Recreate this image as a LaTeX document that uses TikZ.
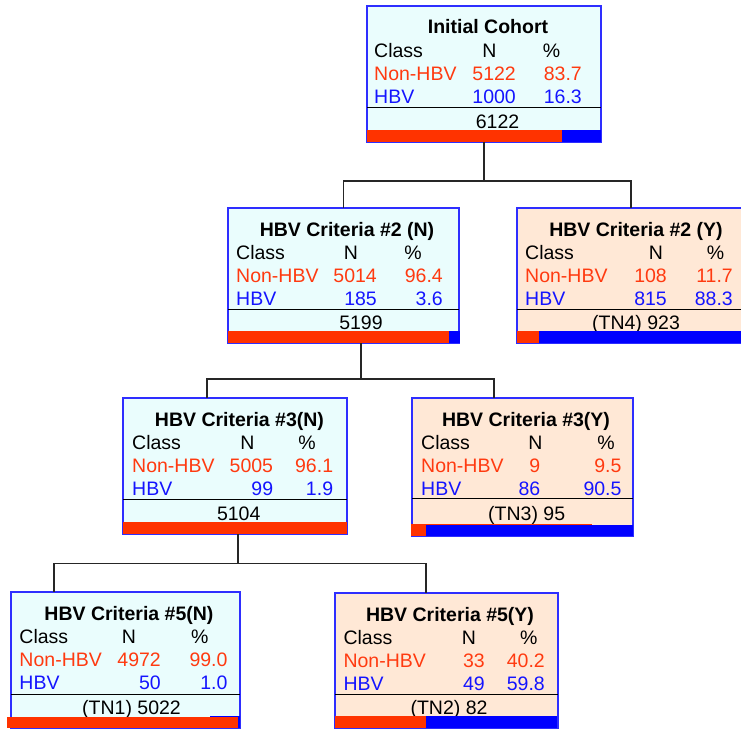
\documentclass[tikz,border=0pt]{standalone}
\usepackage{fontspec}
\setmainfont{Liberation Sans}
\usetikzlibrary{calc}
\definecolor{bordblue}{HTML}{2E2EFF}
\definecolor{cyanfill}{HTML}{EAFDFD}
\definecolor{peachfill}{HTML}{FFE8D6}
\definecolor{barred}{HTML}{FF3300}
\definecolor{barblue}{HTML}{0000FF}
\definecolor{txtred}{HTML}{FF3A10}
\definecolor{txtblue}{HTML}{1414FF}
\tikzset{
  tbox/.style={draw=bordblue, line width=1.2pt, inner sep=0pt, outer sep=0pt, anchor=north west},
  lbox/.style={tbox, fill=cyanfill},
  rbox/.style={tbox, fill=peachfill},
  ttl/.style={anchor=base, inner sep=0pt, font=\fontsize{19.5}{22}\selectfont\bfseries},
  txt/.style={inner sep=0pt, font=\fontsize{19.5}{22}\selectfont},
  lft/.style={txt, anchor=base west},
  rgt/.style={txt, anchor=base east},
  ctr/.style={txt, anchor=base},
  nred/.style={text=txtred},
  nblue/.style={text=txtblue},
  sepline/.style={line width=1pt, black},
  conn/.style={line width=1.3pt, draw=black!85},
}
\newcommand\thead[5]{%
  \node[lft] (#1-c) at (#3,#2+51.5) {Class};
  \node[ctr] (#1-n) at (#4,#2+51.5) {N};
  \node[ctr] (#1-p) at (#5,#2+51.5) {\%};
}
\newcommand\trow[9]{%
  \node[lft,#6] (#1-l) at (#3,#2) {#7};
  \node[rgt,#6] (#1-n) at (#4,#2) {#8};
  \node[rgt,#6] (#1-p) at (#5,#2) {#9};
}
\begin{document}
\begin{tikzpicture}[x=1pt,y=-1pt]
\useasboundingbox (0,0) rectangle (741,730);
\clip (0,0) rectangle (741,730);

% ---------- Root ----------
\node[lbox, minimum width=234pt, minimum height=136pt] (root) at (367,6) {};
\node[ttl] (root-t) at (488,34) {Initial Cohort};
\thead{rh}{6}{374}{489.5}{551.5}
\trow{ra}{81}{374}{516}{582}{nred}{Non-HBV}{5122}{83.7}
\trow{rb}{104}{374}{516}{582}{nblue}{HBV}{1000}{16.3}
\draw[sepline] (367,108) -- (601,108);
\node[ctr] (root-s) at (497.5,128.5) {6122};
\fill[barred] (367,130) rectangle (562,142);
\fill[barblue] (562,130) rectangle (601,142);

% ---------- Level 2 left ----------
\node[lbox, minimum width=231pt, minimum height=135pt] (l2l) at (228,208) {};
\node[ttl] (l2l-t) at (347,236) {HBV Criteria \#2 (N)};
\thead{l2lh}{208}{236}{351}{413}
\trow{l2la}{282.5}{236}{377}{443}{nred}{Non-HBV}{5014}{96.4}
\trow{l2lb}{305.5}{236}{377}{443}{nblue}{HBV}{185}{3.6}
\draw[sepline] (228,309.5) -- (459,309.5);
\node[ctr] (l2l-s) at (361,329.5) {5199};
\fill[barred] (228,331) rectangle (449,343);
\fill[barblue] (449,331) rectangle (459.5,343);

% ---------- Level 2 right ----------
\node[rbox, minimum width=228pt, minimum height=135pt] (l2r) at (517,208) {};
\node[ttl] (l2r-t) at (636,236) {HBV Criteria \#2 (Y)};
\thead{l2rh}{208}{525}{656}{715.5}
\trow{l2ra}{282.5}{525}{667}{733}{nred}{Non-HBV}{108}{11.7}
\trow{l2rb}{305.5}{525}{667}{733}{nblue}{HBV}{815}{88.3}
\draw[sepline] (517,309.5) -- (745,309.5);
\node[ctr] (l2r-s) at (636,329.5) {(TN4) 923};
\fill[barred] (517,331) rectangle (539,343);
\fill[barblue] (539,331) rectangle (745,343);

% ---------- Level 3 left ----------
\node[lbox, minimum width=224pt, minimum height=136pt] (l3l) at (123,398) {};
\node[ttl] (l3l-t) at (239.5,426) {HBV Criteria \#3(N)};
\thead{l3lh}{398}{132}{247.5}{307}
\trow{l3la}{472.5}{132}{273.3}{333.3}{nred}{Non-HBV}{5005}{96.1}
\trow{l3lb}{495.5}{132}{273.3}{333.3}{nblue}{HBV}{99}{1.9}
\draw[sepline] (123,499.5) -- (347,499.5);
\node[ctr] (l3l-s) at (238.7,520) {5104};
\fill[barred] (123,522) rectangle (347,534);

% ---------- Level 3 right ----------
\node[rbox, minimum width=221pt, minimum height=138pt] (l3r) at (412,398) {};
\node[ttl] (l3r-t) at (526,426) {HBV Criteria \#3(Y)};
\thead{l3rh}{398}{421}{535.5}{606}
\trow{l3ra}{472.5}{421}{540.5}{621.7}{nred}{Non-HBV}{9}{9.5}
\trow{l3rb}{495.5}{421}{540.5}{621.7}{nblue}{HBV}{86}{90.5}
\draw[sepline] (412,498.5) -- (633,498.5);
\node[ctr] (l3r-s) at (526.7,520.5) {(TN3) 95};
\fill[barred] (411,523.5) rectangle (592,536);
\fill[barblue] (426,525) rectangle (633,536);

% ---------- Level 4 left ----------
\node[lbox, minimum width=229pt, minimum height=136pt] (l4l) at (11,592) {};
\node[ttl] (l4l-t) at (129,620) {HBV Criteria \#5(N)};
\thead{l4lh}{592}{19.3}{129}{199.7}
\trow{l4la}{666.5}{19.3}{161}{227.7}{nred}{Non-HBV}{4972}{99.0}
\trow{l4lb}{689.5}{19.3}{161}{227.7}{nblue}{HBV}{50}{1.0}
\draw[sepline] (11,694.5) -- (240,694.5);
\node[ctr] (l4l-s) at (131.5,714.5) {(TN1) 5022};
\fill[barblue] (210,716) rectangle (239.5,728);
\fill[barred] (7,717.3) rectangle (238,728);

% ---------- Level 4 right ----------
\node[rbox, minimum width=223pt, minimum height=135pt] (l4r) at (335,593) {};
\node[ttl] (l4r-t) at (450,621) {HBV Criteria \#5(Y)};
\thead{l4rh}{593}{343.3}{469}{528.7}
\trow{l4ra}{667.5}{343.3}{485}{545}{nred}{Non-HBV}{33}{40.2}
\trow{l4rb}{690.5}{343.3}{485}{545}{nblue}{HBV}{49}{59.8}
\draw[sepline] (335,694.5) -- (558,694.5);
\node[ctr] (l4r-s) at (449,714.5) {(TN2) 82};
\fill[barred] (335,716) rectangle (426,728);
\fill[barblue] (426,716) rectangle (557,728);

% ---------- Connectors ----------
\coordinate (j1) at (484,181);
\coordinate (j2) at (361,379);
\coordinate (j3) at (238,563.5);
\draw[conn] (root.south) -- (j1);
\draw[conn] (j1) -| (l2l.north);
\draw[conn] (j1) -| (l2r.north);
\draw[conn] ($(l2l.south west)+(133,0)$) -- (j2);
\draw[conn] (j2) -| ($(l3l.north west)+(84,0)$);
\draw[conn] (j2) -| ($(l3r.north west)+(82,0)$);
\draw[conn] ($(l3l.south west)+(115,0)$) -- (j3);
\draw[conn] (j3) -| ($(l4l.north west)+(43,0)$);
\draw[conn] (j3) -| ($(l4r.north west)+(91,0)$);
\end{tikzpicture}
\end{document}
